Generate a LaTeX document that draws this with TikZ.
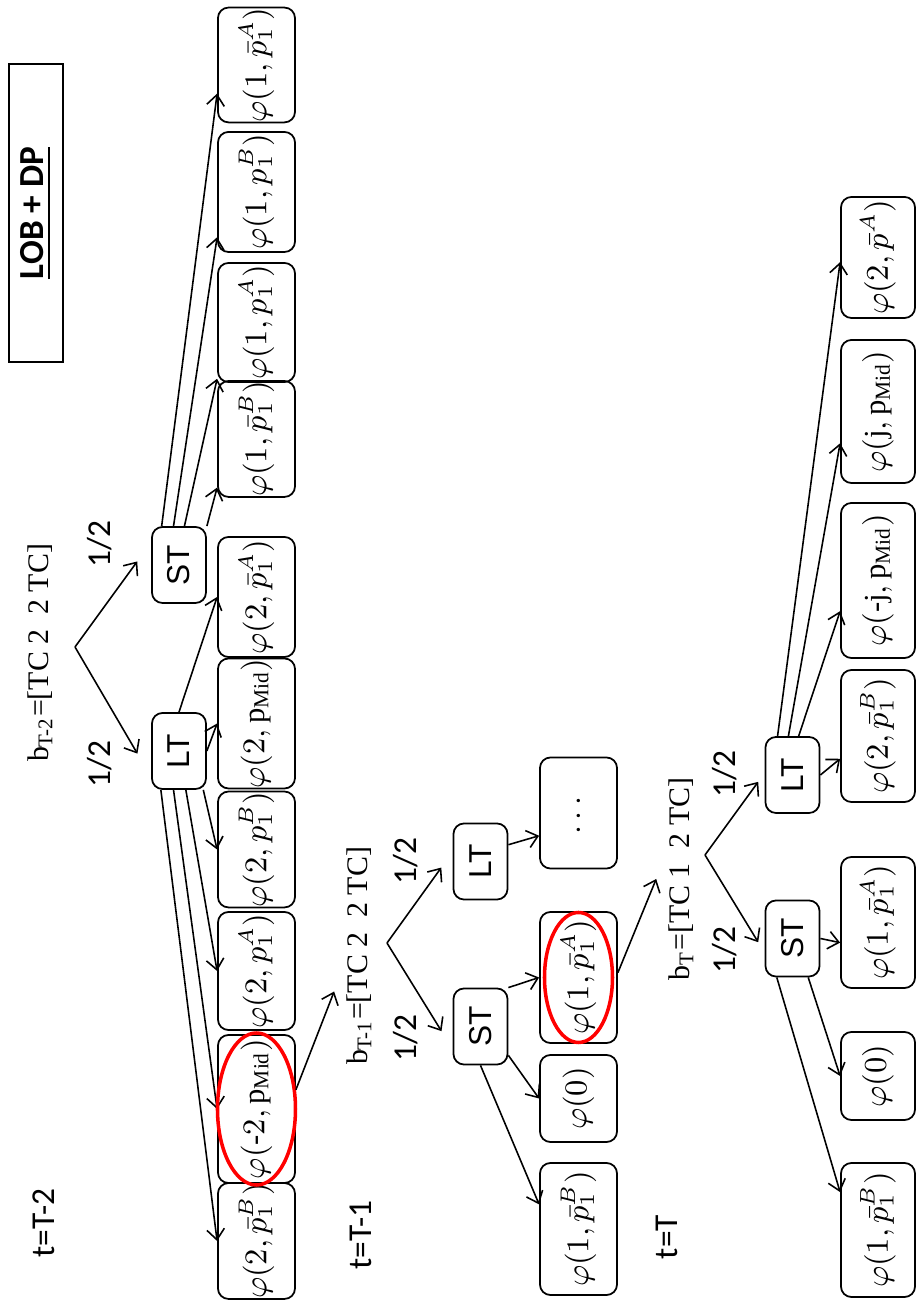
\documentclass[tikz,border=0pt]{standalone}
\usepackage{amsmath}
\usepackage{fontspec}
\setmainfont{Liberation Serif}
\newfontfamily\arialfont{Liberation Sans}
\newfontfamily\calibrifont{Carlito}
\usepackage{tikz}
\usetikzlibrary{arrows.meta}

\tikzset{
  leaf/.style={draw, rounded corners=3pt, line width=0.5pt, minimum height=0.77cm,
    inner sep=0pt, font=\fontsize{8.7}{11}\selectfont},
  move/.style={draw, rounded corners=3pt, line width=0.5pt, minimum width=0.76cm,
    minimum height=0.54cm, inner sep=0pt, font=\arialfont\fontsize{9}{11}\selectfont},
  belief/.style={font=\fontsize{8.5}{10}\selectfont},
  stage/.style={font=\calibrifont\fontsize{9.5}{11}\selectfont},
  prob/.style={font=\calibrifont\fontsize{9.5}{11}\selectfont},
  edge/.style={-{Straight Barb[length=3pt,width=5pt]}, line width=0.45pt},
  pick/.style={red, line width=1pt}
}

\begin{document}
\begin{tikzpicture}[x=0.01cm, y=0.01cm, rotate=90, transform shape]
  \useasboundingbox (0,0) rectangle (1301,917);
  \node[draw, line width=0.4pt, minimum width=2.98cm, minimum height=0.54cm,
    font=\calibrifont\bfseries\fontsize{10}{12}\selectfont] (title) at (1088,881)
    {\underline{LOB + DP}};

  % t = T-2
  \node[stage] (stage2) at (78,873) {t=T-2};
  \node[belief] (bel2) at (648,877) {b\textsubscript{T-2}=[TC 2~~2 TC]};
  \coordinate (fork2) at (654,842);
  \node[move] (lt2) at (550,738) {LT};
  \node[move] (st2) at (736,738) {ST};
  \node[prob] (half2l) at (537,817) {1/2};
  \node[prob] (half2r) at (757,817) {1/2};
  \draw[edge, shorten >=7.7pt] (fork2) -- (lt2.133);
  \draw[edge, shorten >=6.7pt] (fork2) -- (st2.51);
  \foreach \nm/\cx/\w/\txt in {
      a1/60/1.08/{\varphi(2,\bar{p}_1^{B})},
      a2/192/1.48/{\varphi(\text{-}2,\mathrm{p}_{\mathrm{Mid}})},
      a3/330/1.18/{\varphi(2,p_1^{A})},
      a4/451.5/1.15/{\varphi(2,p_1^{B})},
      a5/577.5/1.27/{\varphi(2,\mathrm{p}_{\mathrm{Mid}})},
      a6/704/1.20/{\varphi(2,\bar{p}_1^{A})},
      a7/862/1.08/{\varphi(1,\bar{p}_1^{B})},
      a8/978.5/1.19/{\varphi(1,p_1^{A})},
      a9/1109/1.20/{\varphi(1,p_1^{B})},
      a10/1236/1.10/{\varphi(1,\bar{p}_1^{A})}}
    \node[leaf, minimum width=\w cm] (\nm) at (\cx,660.5) {$\txt$};
  \foreach \src/\dst in {lt2.155/a1.north, lt2.172/a2.north, lt2.190/a3.north,
      lt2.212/a4.north, lt2.south/a5.north, lt2.east/a6.north,
      st2.south east/a7.141, st2.-8/a8.145, st2.8/a9.139, st2.24/a10.126}
    \draw[edge] (\src) -- (\dst);
  \draw[pick] (a2) ellipse [x radius=76, y radius=39];

  % t = T-1
  \node[stage] (stage1) at (66,556) {t=T-1};
  \node[belief] (bel1) at (345,558) {b\textsubscript{T-1}=[TC 2~~2 TC]};
  \draw[edge] (a2.-64) -- (bel1.145);
  \coordinate (fork1) at (358,530);
  \node[move] (st1) at (274.5,436.5) {ST};
  \node[move] (lt1) at (439.5,436.5) {LT};
  \node[prob] (half1l) at (263,511) {1/2};
  \node[prob] (half1r) at (440,511) {1/2};
  \draw[edge, shorten >=6pt] (fork1) -- (st1.129);
  \draw[edge, shorten >=5.5pt] (fork1) -- (lt1.71);
  \foreach \nm/\cx/\w/\txt in {
      b1/72/1.32/{\varphi(1,\bar{p}_1^{B})},
      b2/202.5/0.87/{\varphi(0)},
      b3/323.5/1.31/{\varphi(1,\bar{p}_1^{A})},
      b4/488/1.11/{\dots}}
    \node[leaf, minimum width=\w cm] (\nm) at (\cx,338.5) {$\txt$};
  \foreach \src/\dst in {st1.west/b1.58, st1.224/b2.north,
      st1.south east/b3.north, lt1.-59/b4.120}
    \draw[edge] (\src) -- (\dst);
  \draw[pick] (b3) ellipse [x radius=65, y radius=34];

  % t = T
  \node[stage] (stage0) at (64,250) {t=T};
  \node[belief] (bel0) at (422,236) {b\textsubscript{T}=[TC 1~~2 TC]};
  \draw[edge] (b3.-83) -- (bel0.north);
  \coordinate (fork0) at (446,212);
  \node[move] (st0) at (362.5,124.5) {ST};
  \node[move] (lt0) at (526,124.5) {LT};
  \node[prob] (half0l) at (351,192) {1/2};
  \node[prob] (half0r) at (527,192) {1/2};
  \draw[edge, shorten >=3.5pt] (fork0) -- (st0.117);
  \draw[edge, shorten >=3.1pt] (fork0) -- (lt0.86);
  \foreach \nm/\cx/\w/\txt in {
      c1/71/1.34/{\varphi(1,\bar{p}_1^{B})},
      c2/225/0.88/{\varphi(0)},
      c3/378.5/1.31/{\varphi(1,\bar{p}_1^{A})},
      c4/565/1.32/{\varphi(2,\bar{p}_1^{B})},
      c5/720.5/1.55/{\varphi(\text{-}\mathrm{j},\mathrm{p}_{\mathrm{Mid}})},
      c6/889.5/1.43/{\varphi(\mathrm{j},\mathrm{p}_{\mathrm{Mid}})},
      c7/1043.5/1.21/{\varphi(2,\bar{p}^{A})}}
    \node[leaf, minimum width=\w cm, minimum height=0.74cm] (\nm) at (\cx,39) {$\txt$};
  \foreach \src/\dst in {st0.158/c1.45, st0.202/c2.north, st0.south/c3.118,
      lt0.south/c4.121, lt0.-9/c5.129, lt0.6/c6.130, lt0.21/c7.97}
    \draw[edge] (\src) -- (\dst);
\end{tikzpicture}
\end{document}
